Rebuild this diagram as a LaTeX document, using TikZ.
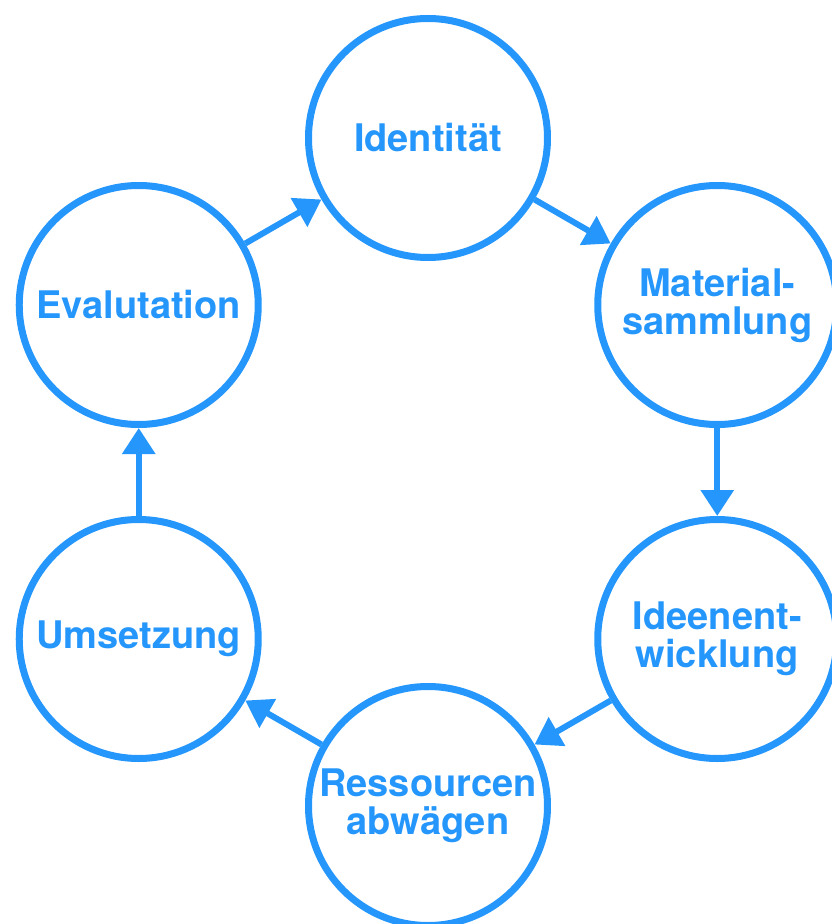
\documentclass[tikz,border=0pt]{standalone}
\usepackage{fontspec}
\setmainfont{TeX Gyre Heros}
\usepackage{tikz}
\usetikzlibrary{arrows.meta}
\definecolor{cycleblue}{RGB}{36,150,252}

\begin{document}
\begin{tikzpicture}[x=1pt,y=1pt,
    stage/.style={draw=cycleblue, line width=7pt, circle, minimum size=239pt, inner sep=0pt,
        text=cycleblue, align=center, font=\fontsize{38}{38}\selectfont\bfseries},
    flow/.style={draw=cycleblue, line width=6pt, -{Triangle[length=26pt,width=32pt]}}]
\newcommand{\cycleradiustikz}{334}

\useasboundingbox (-428,-452) rectangle (403,472);

\node[stage] (identitaet) at (90:\cycleradiustikz) {Identität};
\node[stage] (material) at (30:\cycleradiustikz) {Material-\\sammlung};
\node[stage] (ideen) at (-30:\cycleradiustikz) {Ideenent-\\wicklung};
\node[stage] (ressourcen) at (-90:\cycleradiustikz) {Ressourcen\\abwägen};
\node[stage] (umsetzung) at (-150:\cycleradiustikz) {Umsetzung};
\node[stage] (evaluation) at (150:\cycleradiustikz) {Evalutation};

\draw[flow] (identitaet) -- (material);
\draw[flow] (material) -- (ideen);
\draw[flow] (ideen) -- (ressourcen);
\draw[flow] (ressourcen) -- (umsetzung);
\draw[flow] (umsetzung) -- (evaluation);
\draw[flow] (evaluation) -- (identitaet);

\end{tikzpicture}
\end{document}
